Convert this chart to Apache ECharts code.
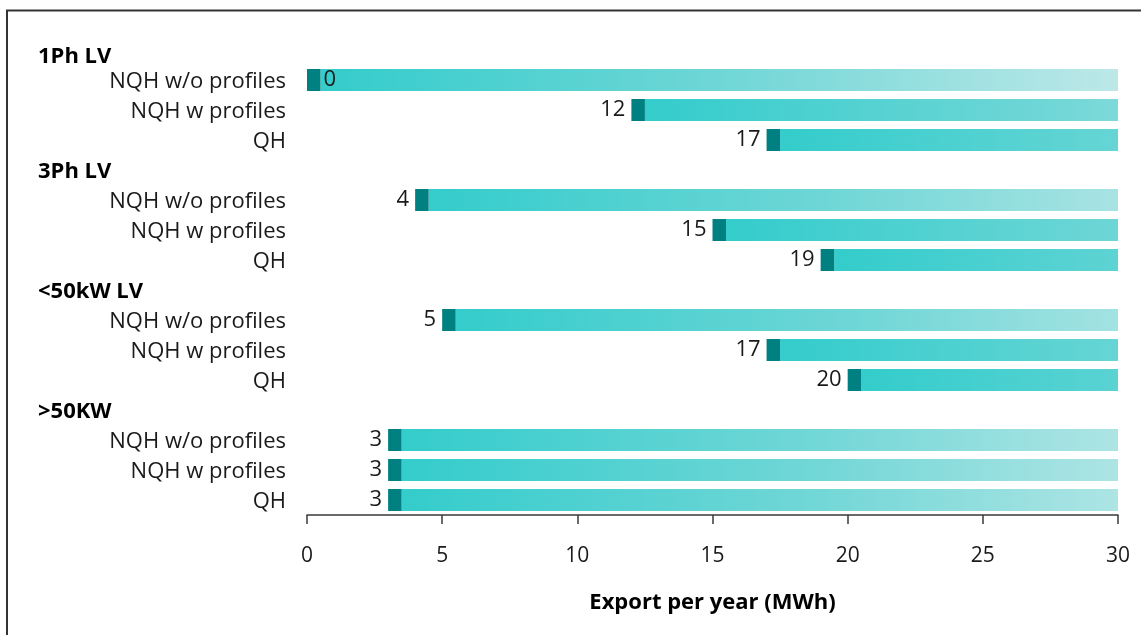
<!DOCTYPE html>
<html>
<head>
<meta charset="utf-8">
<script src="https://cdn.jsdelivr.net/npm/echarts@6/dist/echarts.min.js"></script>
<style>
  html, body { margin: 0; padding: 0; background: #ffffff; }
  #chart { width: 1141px; height: 635px; }
</style>
</head>
<body>
<div id="chart"></div>
<script>
// Connection groups and the three metering variants shown for each
const groups = ['1Ph LV', '3Ph LV', '<50kW LV', '>50KW'];
const variants = ['NQH w/o profiles', 'NQH w profiles', 'QH'];
// Starting export value (MWh) per group, in variant order
const start1Ph = [0, 12, 17];
const start3Ph = [4, 15, 19];
const startBelow50 = [5, 17, 20];
const startAbove50 = [3, 3, 3];
const groupStarts = [start1Ph, start3Ph, startBelow50, startAbove50];
// Axis range and ticks
const axisMin = 0;
const axisMax = 30;
const tickStep = 5;
// Width of the dark marker at the start of each bar (MWh)
const markerWidth = 0.5;

const FONT = '"Open Sans", "Noto Sans", sans-serif';

// Build row list: one header row per group followed by its variants
const rowLabels = [];
const rowKinds = [];
const rowStarts = [];
groups.forEach((g, gi) => {
  rowLabels.push(g); rowKinds.push(gi === 0 ? 'h0' : 'h'); rowStarts.push(null);
  variants.forEach((v, vi) => {
    rowLabels.push(v); rowKinds.push('i'); rowStarts.push(groupStarts[gi][vi]);
  });
});

const baseData = rowStarts.map(s => s === null ? '-' : s);
const markerData = rowStarts.map(s => {
  if (s === null) return '-';
  return {
    value: markerWidth,
    label: s === 0
      ? { position: 'right', distance: 3 }
      : { position: 'left', distance: 6 }
  };
});
const fillData = rowStarts.map(s => {
  if (s === null) return '-';
  const len = axisMax - s - markerWidth;
  const span = (axisMax - markerWidth) / len;
  return {
    value: len,
    itemStyle: {
      color: {
        type: 'linear', x: 0, y: 0, x2: span, y2: 0,
        colorStops: [
          { offset: 0, color: '#34cccc' },
          { offset: 0.5, color: '#6fd6d6' },
          { offset: 1, color: '#bde8e8' }
        ]
      }
    }
  };
});

const chart = echarts.init(document.getElementById('chart'), null, { renderer: 'canvas' });
chart.setOption({
  animation: false,
  backgroundColor: '#ffffff',
  grid: { left: 307, right: 23, top: 35, height: 480, containLabel: false },
  xAxis: {
    type: 'value',
    min: axisMin, max: axisMax, interval: tickStep,
    name: 'Export per year (MWh)',
    nameLocation: 'middle',
    nameGap: 77,
    nameTextStyle: { fontFamily: FONT, fontSize: 22, fontWeight: 'bold', color: '#000' },
    axisLine: { show: true, lineStyle: { color: '#3a3a3a', width: 1.5 } },
    axisTick: { show: true, length: 9, lineStyle: { color: '#3a3a3a', width: 1.5 } },
    axisLabel: { margin: 31, fontFamily: FONT, fontSize: 21, color: '#1a1a1a' },
    splitLine: { show: false }
  },
  yAxis: {
    type: 'category',
    inverse: true,
    data: rowLabels,
    axisLine: { show: false },
    axisTick: { show: false },
    axisLabel: {
      margin: 21,
      interval: 0,
      fontFamily: FONT,
      fontSize: 22,
      color: '#1a1a1a',
      formatter: (value, index) => '{' + rowKinds[index] + '|' + value + '}',
      rich: {
        h0: { fontFamily: FONT, fontSize: 22, fontWeight: 'bold', color: '#000', width: 248, align: 'left', padding: [14, 0, 0, 0] },
        h: { fontFamily: FONT, fontSize: 22, fontWeight: 'bold', color: '#000', width: 248, align: 'left', padding: [4, 0, 0, 0] },
        i: { fontFamily: FONT, fontSize: 22, color: '#1a1a1a', align: 'right', padding: [4, 0, 0, 0] }
      }
    }
  },
  series: [
    {
      type: 'bar', stack: 'row', barWidth: 22, silent: true,
      itemStyle: { color: 'rgba(0,0,0,0)' },
      data: baseData
    },
    {
      type: 'bar', stack: 'row', barWidth: 22, z: 3,
      itemStyle: { color: '#008080' },
      label: {
        show: true,
        fontFamily: FONT, fontSize: 22, color: '#1a1a1a',
        padding: [4, 0, 0, 0],
        formatter: p => String(rowStarts[p.dataIndex])
      },
      data: markerData
    },
    {
      type: 'bar', stack: 'row', barWidth: 22, z: 2,
      data: fillData
    }
  ],
  graphic: [
    {
      type: 'polyline',
      silent: true,
      shape: { points: [[7, 635], [7, 10.5], [1141, 10.5]] },
      style: { stroke: '#333333', lineWidth: 2, fill: null }
    }
  ]
});
</script>
</body>
</html>
